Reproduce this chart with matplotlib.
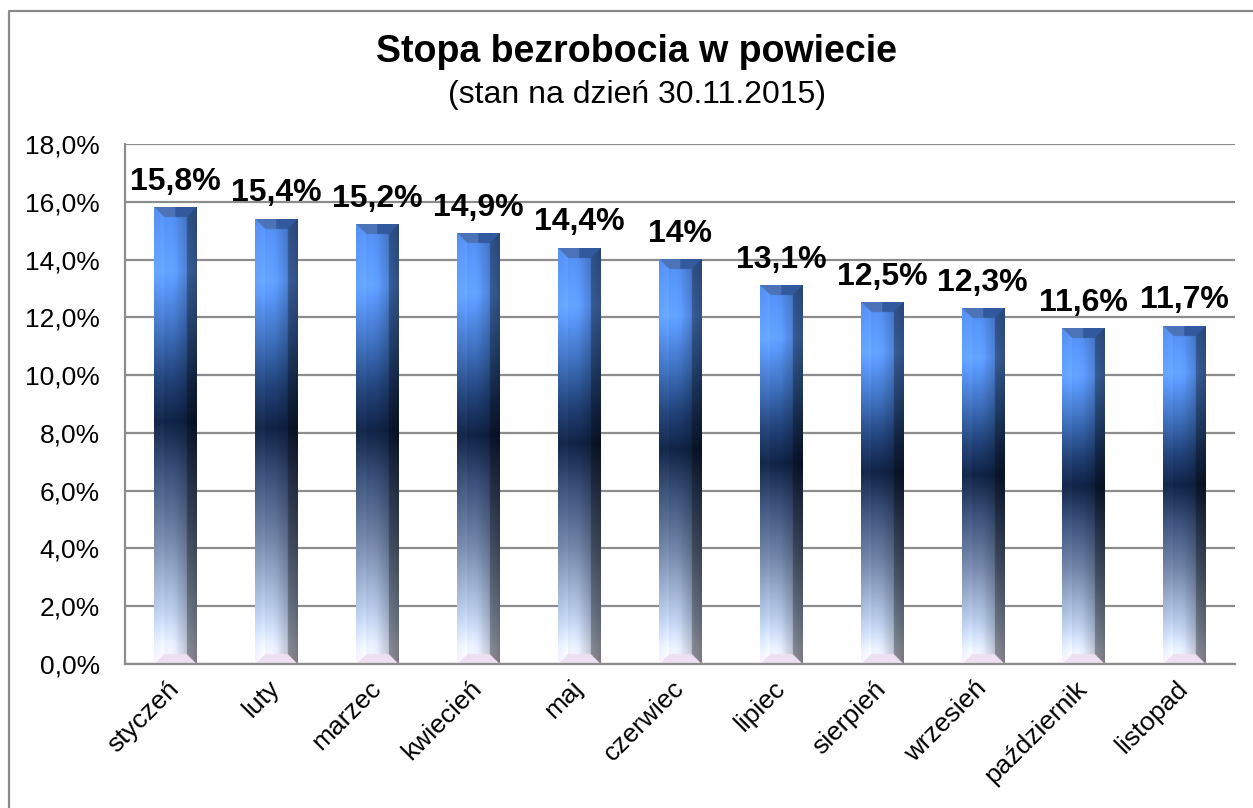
import matplotlib
matplotlib.use("Agg")
import matplotlib.pyplot as plt
import numpy as np
from matplotlib.lines import Line2D
from matplotlib.ticker import FuncFormatter, MultipleLocator

plt.rcParams['font.family'] = ['Liberation Sans', 'DejaVu Sans']

# --- data ---
months = ['styczeń', 'luty', 'marzec', 'kwiecień', 'maj', 'czerwiec',
          'lipiec', 'sierpień', 'wrzesień', 'październik', 'listopad']
rates = [15.8, 15.4, 15.2, 14.9, 14.4, 14.0, 13.1, 12.5, 12.3, 11.6, 11.7]

title = 'Stopa bezrobocia w powiecie'
subtitle = '(stan na dzień 30.11.2015)'

# --- layout (pixels) ---
FIG_W, FIG_H, DPI = 1253, 808, 100
AX_L, AX_R, AX_T, AX_B = 125, 1235, 144, 664
Y_MAX = 18.0
BAR_W = 0.42
BEVEL = 10
GRID = '#8c8c8c'

# vertical colour ramp of the bar face (t = 0 bottom, 1 top)
stops_t = [0.00, 0.04, 0.12, 0.28, 0.42, 0.53, 0.62, 0.72, 0.86, 1.00]
stops_c = np.array([
    (0.94, 0.89, 0.96),
    (0.86, 0.89, 0.96),
    (0.68, 0.75, 0.86),
    (0.42, 0.49, 0.62),
    (0.22, 0.30, 0.45),
    (0.06, 0.13, 0.26),
    (0.12, 0.24, 0.44),
    (0.22, 0.40, 0.68),
    (0.36, 0.60, 0.98),
    (0.30, 0.52, 0.88),
])


def ramp(t):
    return np.stack([np.interp(t, stops_t, stops_c[:, k]) for k in range(3)], axis=-1)


def bevel_bar(w, h, b, scale=2):
    W = max(int(round(w * scale)), 2)
    H = max(int(round(h * scale)), 2)
    b = b * scale
    X, Y = np.meshgrid(np.arange(W) + 0.5, np.arange(H) + 0.5)
    t = 1 - Y / H
    img = ramp(t)
    u = X / W
    shade = 1.0 + 0.08 * np.exp(-((u - 0.35) / 0.2) ** 2) - 0.25 * np.clip((u - 0.5) / 0.5, 0, 1)
    img = img * shade[..., None]

    d = np.stack([X, W - X, Y, H - Y])
    face = np.argmin(d, axis=0)
    edge = d.min(axis=0) < b
    left = edge & (face == 0)
    right = edge & (face == 1)
    top = edge & (face == 2)
    bottom = edge & (face == 3)

    img[left] = np.clip(img[left] * 1.04 + 0.02, 0, 1)
    img[right] = img[right] * 0.7
    topc = np.array([0.20, 0.35, 0.62]) + 0.10 * (u[..., None] < 0.5)
    img[top] = topc[top]
    img[bottom] = np.array([0.93, 0.88, 0.95])
    return np.clip(img, 0, 1)


fig = plt.figure(figsize=(FIG_W / DPI, FIG_H / DPI), dpi=DPI)
ax = fig.add_axes([AX_L / FIG_W, 1 - AX_B / FIG_H,
                   (AX_R - AX_L) / FIG_W, (AX_B - AX_T) / FIG_H])

n = len(rates)
px_per_x = (AX_R - AX_L) / n
px_per_y = (AX_B - AX_T) / Y_MAX

for i, v in enumerate(rates):
    img = bevel_bar(BAR_W * px_per_x, v * px_per_y, BEVEL)
    ax.imshow(img, extent=(i - BAR_W / 2, i + BAR_W / 2, 0, v),
              aspect='auto', interpolation='bilinear', zorder=2)
    lab = f"{v:g}".replace('.', ',') + '%'
    ax.text(i, v + 0.62, lab, ha='center', va='baseline',
            fontsize=23, fontweight='bold', zorder=3)

ax.set_xlim(-0.5, n - 0.5)
ax.set_ylim(0, Y_MAX)

# axes styling
ax.yaxis.set_major_locator(MultipleLocator(2))
ax.yaxis.set_major_formatter(FuncFormatter(lambda y, _: f"{y:.1f}".replace('.', ',') + '%'))
ax.grid(axis='y', color=GRID, linewidth=1.6)
ax.set_axisbelow(True)
for s in ['top', 'right']:
    ax.spines[s].set_visible(False)
for s in ['left', 'bottom']:
    ax.spines[s].set_color(GRID)
    ax.spines[s].set_linewidth(1.6)
ax.tick_params(axis='y', length=0, pad=18, labelsize=19)
ax.tick_params(axis='x', length=0, pad=15, labelsize=19)
ax.set_xticks(range(n))
ax.set_xticklabels(months, rotation=45, ha='right', va='center', rotation_mode='anchor')

fig.text(0.508, 1 - 52 / FIG_H, title, ha='center', va='center',
         fontsize=27, fontweight='bold')
fig.text(0.508, 1 - 95 / FIG_H, subtitle, ha='center', va='center', fontsize=23)

# outer chart frame (only left and top edges visible)
fig.add_artist(Line2D([9 / FIG_W, 9 / FIG_W, 1], [0, 1 - 11 / FIG_H, 1 - 11 / FIG_H],
                      transform=fig.transFigure, color='#8a8a8a', linewidth=1.6))

fig.savefig('out.png', dpi=DPI)
